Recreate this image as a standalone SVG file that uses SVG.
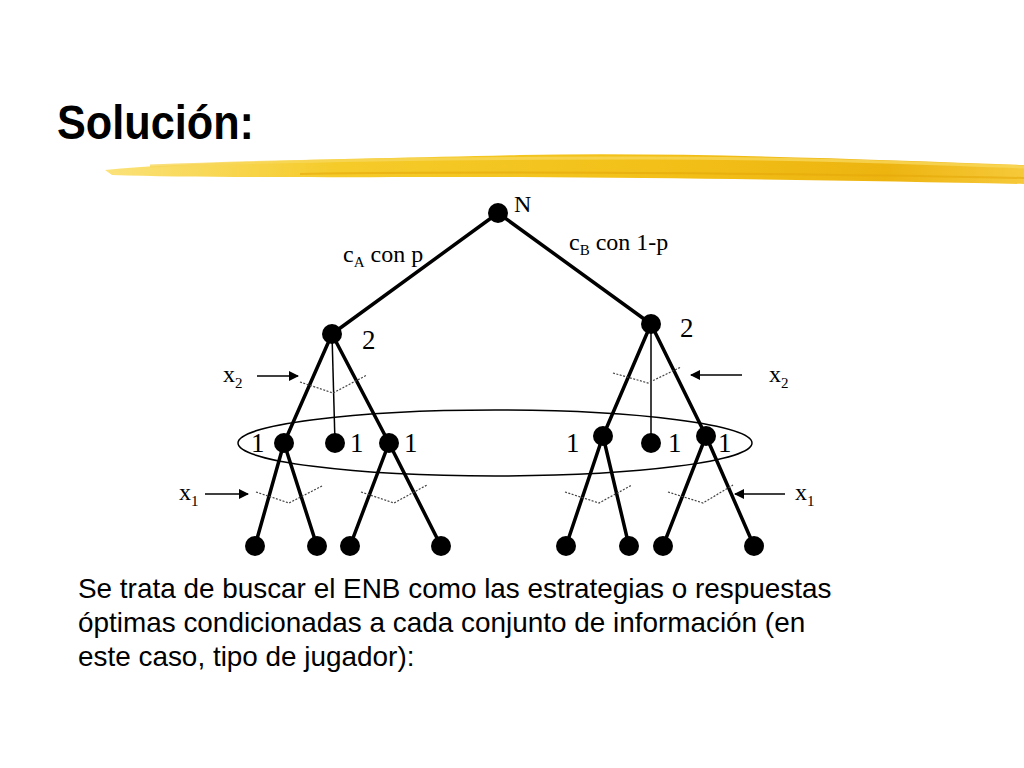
<svg xmlns="http://www.w3.org/2000/svg" width="1024" height="768" viewBox="0 0 1024 768">
<defs>
<linearGradient id="brush" x1="0" y1="0" x2="1" y2="0">
<stop offset="0" stop-color="#FBE27A"/>
<stop offset="0.25" stop-color="#F5CB2A"/>
<stop offset="0.6" stop-color="#F2C018"/>
<stop offset="0.85" stop-color="#EDB410"/>
<stop offset="1" stop-color="#F6C93A"/>
</linearGradient>
<marker id="arr" viewBox="0 0 10 10" refX="9" refY="5" markerWidth="10" markerHeight="10" markerUnits="userSpaceOnUse" orient="auto">
<path d="M0,0 L10,5 L0,10 z" fill="#000"/>
</marker>
</defs>
<style>
.thick{stroke:#000;stroke-width:3.5;fill:none;stroke-linecap:round}
.thin{stroke:#000;stroke-width:1.5;fill:none}
.dash{stroke:#444;stroke-width:1.2;fill:none;stroke-dasharray:2,1.5}
.arrow{stroke:#000;stroke-width:1.6;fill:none;marker-end:url(#arr)}
.node{fill:#000}
.lbl{font-family:"Liberation Serif",serif;font-size:24px;fill:#000}
.num{font-size:27px}
.sub{font-size:15px}
.body{font-family:"Liberation Sans",Arial,sans-serif;font-size:27.9px;fill:#000}
</style>
<rect width="1024" height="768" fill="#fff"/>
<text x="57" y="139" font-family="Liberation Sans, Arial, sans-serif" font-weight="bold" font-size="48" textLength="197" lengthAdjust="spacingAndGlyphs">Solución:</text>
<g id="brush-stroke">
<path d="M105,170 C200,161 350,159 520,155 C700,152 880,160 1024,165 L1024,184 C880,181 700,178 520,177 C350,177 200,178 112,175 Z" fill="url(#brush)"/>
<path d="M150,166 C300,160 480,158 640,158 C800,158 920,163 1024,167" stroke="#F8D75A" stroke-width="3" fill="none" opacity="0.8"/>
<path d="M300,174 C500,171 700,172 1024,178" stroke="#E5A90A" stroke-width="2" fill="none" opacity="0.6"/>
</g>
<g id="connectors">
<line class="thick" x1="498" y1="213" x2="332" y2="334"/>
<line class="thick" x1="498" y1="213" x2="651" y2="324"/>
<line class="thick" x1="332" y1="334" x2="284" y2="443"/>
<line class="thin" x1="332" y1="334" x2="335" y2="443"/>
<line class="thick" x1="332" y1="334" x2="389" y2="443"/>
<line class="thick" x1="651" y1="324" x2="603" y2="436"/>
<line class="thin" x1="651" y1="324" x2="651" y2="443"/>
<line class="thick" x1="651" y1="324" x2="706" y2="436"/>
<line class="thick" x1="284" y1="443" x2="255" y2="546"/>
<line class="thick" x1="284" y1="443" x2="317" y2="546"/>
<line class="thick" x1="389" y1="443" x2="350" y2="546"/>
<line class="thick" x1="389" y1="443" x2="441" y2="546"/>
<line class="thick" x1="603" y1="436" x2="566" y2="546"/>
<line class="thick" x1="603" y1="436" x2="629" y2="546"/>
<line class="thick" x1="706" y1="436" x2="663" y2="546"/>
<line class="thick" x1="706" y1="436" x2="754" y2="546"/>
<polyline class="dash" points="300,382 333,393 367,375"/>
<polyline class="dash" points="613,373 648,383 681,367"/>
<polyline class="dash" points="256,492 289,503 322,486"/>
<polyline class="dash" points="361,492 394,503 427,485"/>
<polyline class="dash" points="565,492 599,503 632,485"/>
<polyline class="dash" points="668,492 703,503 733,485"/>
<line class="arrow" x1="257" y1="376" x2="298" y2="376"/>
<line class="arrow" x1="742" y1="375" x2="691" y2="375"/>
<line class="arrow" x1="205" y1="494" x2="248" y2="494"/>
<line class="arrow" x1="785" y1="494" x2="735" y2="494"/>
</g>
<g id="info-set"><ellipse cx="495" cy="443" rx="257" ry="33" fill="none" stroke="#000" stroke-width="1.5"/></g>
<g id="node-N"><circle class="node" cx="498" cy="213" r="10"/><text class="lbl" x="514" y="212">N</text></g>
<g id="node-2L"><circle class="node" cx="332" cy="334" r="10"/><text class="lbl num" x="362" y="349">2</text></g>
<g id="node-2R"><circle class="node" cx="651" cy="324" r="10"/><text class="lbl num" x="680" y="337">2</text></g>
<g id="node-1a"><circle class="node" cx="284" cy="443" r="10"/><text class="lbl num" x="251" y="452">1</text></g>
<g id="node-1b"><circle class="node" cx="335" cy="443" r="10"/><text class="lbl num" x="350" y="452">1</text></g>
<g id="node-1c"><circle class="node" cx="389" cy="443" r="10"/><text class="lbl num" x="404" y="452">1</text></g>
<g id="node-1d"><circle class="node" cx="603" cy="436" r="10"/><text class="lbl num" x="566" y="452">1</text></g>
<g id="node-1e"><circle class="node" cx="651" cy="443" r="10"/><text class="lbl num" x="668" y="452">1</text></g>
<g id="node-1f"><circle class="node" cx="706" cy="436" r="10"/><text class="lbl num" x="718" y="452">1</text></g>
<g id="leaves">
<circle class="node" cx="255" cy="546" r="10"/>
<circle class="node" cx="317" cy="546" r="10"/>
<circle class="node" cx="350" cy="546" r="10"/>
<circle class="node" cx="441" cy="546" r="10"/>
<circle class="node" cx="566" cy="546" r="10"/>
<circle class="node" cx="629" cy="546" r="10"/>
<circle class="node" cx="663" cy="546" r="10"/>
<circle class="node" cx="754" cy="546" r="10"/>
</g>
<g id="labels">
<text class="lbl" x="343" y="262" font-size="22.5">c<tspan class="sub" dy="5">A</tspan><tspan dy="-5"> con p</tspan></text>
<text class="lbl" x="569" y="250" font-size="22.5">c<tspan class="sub" dy="5">B</tspan><tspan dy="-5"> con 1-p</tspan></text>
<text class="lbl" x="223" y="382">x<tspan class="sub" dy="6">2</tspan></text>
<text class="lbl" x="769" y="382">x<tspan class="sub" dy="6">2</tspan></text>
<text class="lbl" x="179" y="500">x<tspan class="sub" dy="6">1</tspan></text>
<text class="lbl" x="795" y="500">x<tspan class="sub" dy="6">1</tspan></text>
</g>
<g id="body-text">
<text class="body" x="78" y="598">Se trata de buscar el ENB como las estrategias o respuestas</text>
<text class="body" x="78" y="632">óptimas condicionadas a cada conjunto de información (en</text>
<text class="body" x="78" y="666">este caso, tipo de jugador):</text>
</g>
</svg>
